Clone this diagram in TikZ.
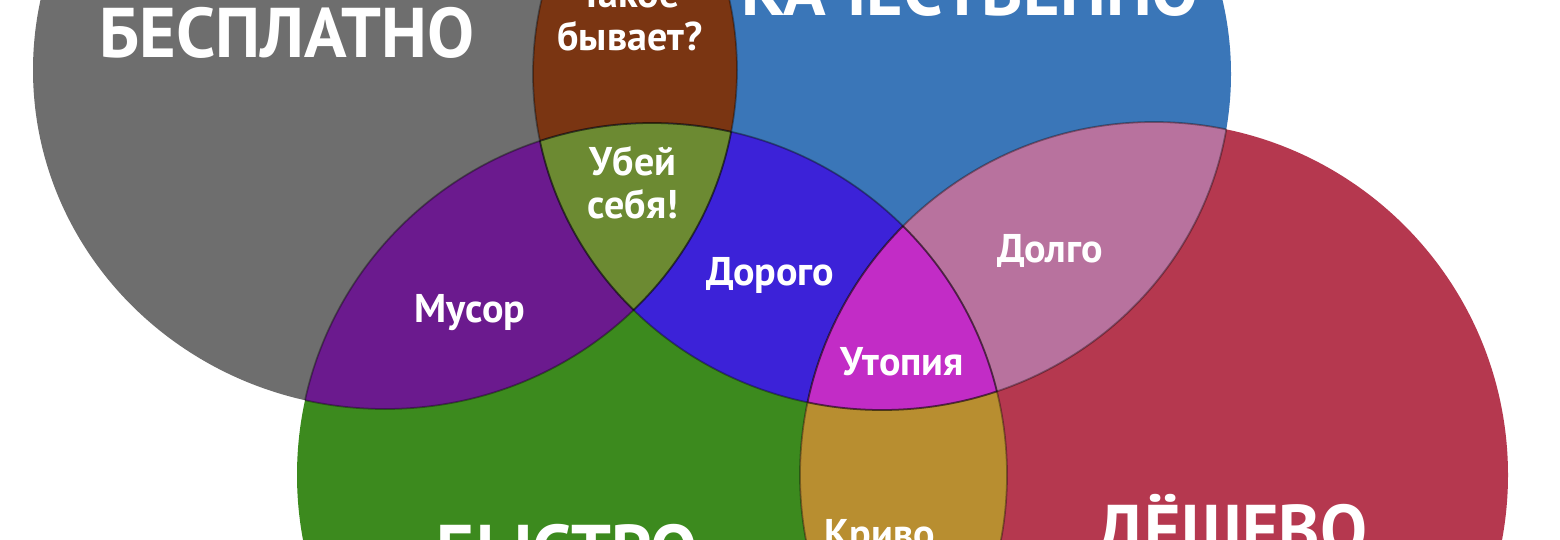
\documentclass[tikz,border=0pt]{standalone}
\usepackage{fontspec}
\setmainfont{PT Sans}
\usetikzlibrary{positioning}

\definecolor{VennGray}{HTML}{6E6E6E}
\definecolor{VennBlue}{HTML}{3A76B8}
\definecolor{VennGreen}{HTML}{3C8A1E}
\definecolor{VennRed}{HTML}{B5384F}
\definecolor{VennBrown}{HTML}{7A3512}
\definecolor{VennOlive}{HTML}{6C8A32}
\definecolor{VennPurple}{HTML}{6B1A8E}
\definecolor{VennViolet}{HTML}{3C22D8}
\definecolor{VennPink}{HTML}{B8729E}
\definecolor{VennMagenta}{HTML}{C22CC6}
\definecolor{VennOchre}{HTML}{B88E30}

% The four sets
\newcommand{\setFree}{(385,70) ellipse [x radius=352, y radius=339]}
\newcommand{\setGood}{(882,74) ellipse [x radius=349, y radius=336]}
\newcommand{\setFast}{(652,475) ellipse [x radius=355, y radius=352]}
\newcommand{\setCheap}{(1154,475) ellipse [x radius=354, y radius=353]}

\tikzset{
    % Big set title
    settitle/.style={
        text=white,
        inner sep=0pt,
        anchor=base,
        font=\fontsize{20}{22}\selectfont\bfseries
    },
    % Label of an overlap
    zonelabel/.style={
        text=white,
        inner sep=0pt,
        align=center,
        font=\fontsize{11.4}{12.3}\selectfont\bfseries
    },
    % Thin edge of a set
    setedge/.style={
        draw=black,
        draw opacity=0.35,
        line width=0.5pt
    }
}

\begin{document}
\begin{tikzpicture}[x=0.01cm, y=-0.01cm]
    \useasboundingbox (0,0) rectangle (1560,539);
    \clip (0,0) rectangle (1560,539);
    \fill[white] (0,0) rectangle (1560,539);

    % Sets
    \fill[VennGray] \setFree;
    \fill[VennBlue] \setGood;
    \fill[VennGreen] \setFast;
    \fill[VennRed] \setCheap;

    % Two-set overlaps
    \begin{scope}
        \clip \setFree;
        \fill[VennBrown] \setGood;
        \fill[VennPurple] \setFast;
    \end{scope}
    \begin{scope}
        \clip \setGood;
        \fill[VennViolet] \setFast;
        \fill[VennPink] \setCheap;
    \end{scope}
    \begin{scope}
        \clip \setFast;
        \fill[VennOchre] \setCheap;
    \end{scope}

    % Three-set overlaps
    \begin{scope}
        \clip \setFree;
        \clip \setGood;
        \fill[VennOlive] \setFast;
    \end{scope}
    \begin{scope}
        \clip \setGood;
        \clip \setFast;
        \fill[VennMagenta] \setCheap;
    \end{scope}

    % Edges inside the overlaps only
    \foreach \edge/\inside in {\setFree/\setGood, \setGood/\setFree,
        \setFree/\setFast, \setFast/\setFree, \setGood/\setFast,
        \setFast/\setGood, \setGood/\setCheap, \setCheap/\setGood,
        \setFast/\setCheap, \setCheap/\setFast}{
        \begin{scope}
            \clip \inside;
            \path[setedge] \edge;
        \end{scope}
    }

    % Set titles
    \node[settitle] (free) at (287,57) {БЕСПЛАТНО};
    \node[settitle] (good) at (970,15) {КАЧЕСТВЕННО};
    \node[settitle] (fast) at (567,574) {БЫСТРО};
    \node[settitle] (cheap) at (1232,554) {ДЁШЕВО};

    % Overlap labels
    \node[zonelabel] (rare) at (630,15) {Такое\\бывает?};
    \node[zonelabel] (kill) at (633,183) {Убей\\себя!};
    \node[zonelabel, anchor=base] (junk) at (470,322) {Мусор};
    \node[zonelabel, anchor=base] (dear) at (770,285) {Дорого};
    \node[zonelabel, anchor=base] (slow) at (1050,262) {Долго};
    \node[zonelabel, anchor=base] (utopia) at (902,375) {Утопия};
    \node[zonelabel, anchor=base] (crooked) at (880,547) {Криво};
\end{tikzpicture}
\end{document}
